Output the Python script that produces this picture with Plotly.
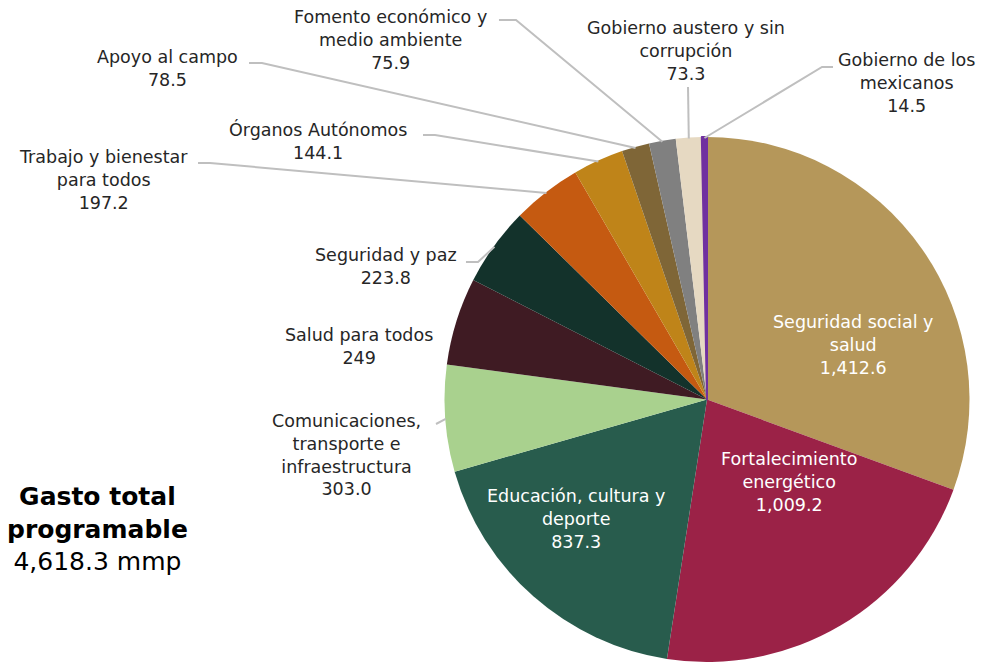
import math

import plotly.graph_objects as go

labels = [
    "Seguridad social y salud",
    "Fortalecimiento energético",
    "Educación, cultura y deporte",
    "Comunicaciones, transporte e infraestructura",
    "Salud para todos",
    "Seguridad y paz",
    "Trabajo y bienestar para todos",
    "Órganos Autónomos",
    "Apoyo al campo",
    "Fomento económico y medio ambiente",
    "Gobierno austero y sin corrupción",
    "Gobierno de los mexicanos",
]
values = [1412.6, 1009.2, 837.3, 303.0, 249.0, 223.8, 197.2, 144.1, 78.5, 75.9, 73.3, 14.5]
value_text = ["1,412.6", "1,009.2", "837.3", "303.0", "249", "223.8",
              "197.2", "144.1", "78.5", "75.9", "73.3", "14.5"]
label_lines = [
    "Seguridad social y<br>salud",
    "Fortalecimiento<br>energético",
    "Educación, cultura y<br>deporte",
    "Comunicaciones,<br>transporte e<br>infraestructura",
    "Salud para todos",
    "Seguridad y paz",
    "Trabajo y bienestar<br>para todos",
    "Órganos Autónomos",
    "Apoyo al campo",
    "Fomento económico y<br>medio ambiente",
    "Gobierno austero y sin<br>corrupción",
    "Gobierno de los<br>mexicanos",
]
colors = ["#B5975A", "#9B2247", "#285C4D", "#A9D18E", "#3F1B23", "#13322B",
          "#C55A11", "#BF8419", "#7F6637", "#808080", "#E6D9C2", "#7030A0"]
total_text = "4,618.3 mmp"

# page body has an 8px margin, so the figure sits at (8, 8) on screen
OFF = 8
W, H = 987 - OFF, 662 - OFF
CX, CY, R = 707, 400, 263   # screen pixels
FONT = "DejaVu Sans"

# label block centres in screen pixels
label_xy = [
    (853, 345), (789, 482), (576, 519), (346, 455), (359, 346), (386, 266),
    (103, 180), (318, 141), (167, 68), (390, 40), (686, 51), (906, 83),
]
inside = [True, True, True] + [False] * 9
# leader lines: start point and elbow (screen pixels), end is on the slice edge
leaders = {
    3: [(436, 424)],
    5: [(466, 262), (478, 262)],
    6: [(198, 163), (210, 163)],
    7: [(423, 135), (435, 135)],
    8: [(249, 63), (262, 63)],
    9: [(499, 20), (516, 20)],
    10: [(688, 87)],
    11: [(833, 67), (822, 67)],
}


def px(x, y):
    return (x - OFF) / W, 1 - (y - OFF) / H


total = sum(values)
x0, y1 = px(CX - R, CY - R)
x1, y0 = px(CX + R, CY + R)
# thin outline only on the tiny purple slice so it reads like the original
line_w = [0] * (len(values) - 1) + [2]
fig = go.Figure(
    go.Pie(
        labels=labels,
        values=values,
        sort=False,
        direction="clockwise",
        rotation=0,
        marker=dict(colors=colors, line=dict(width=line_w, color=colors)),
        textinfo="none",
        hoverinfo="label+value",
        showlegend=False,
        domain=dict(x=[x0, x1], y=[max(y0, 0), y1]),
    )
)

cum = 0
shapes = []
annotations = []
for i, v in enumerate(values):
    theta = math.radians(360 * (cum + v / 2) / total)
    cum += v
    end = (CX + (R - 1) * math.sin(theta), CY - (R - 1) * math.cos(theta))
    if i in leaders:
        pts = leaders[i] + [end]
        path = "M " + " L ".join("%.4f,%.4f" % px(*p) for p in pts)
        shapes.append(dict(type="path", path=path, xref="paper", yref="paper",
                           line=dict(color="#BFBFBF", width=2)))
    x, y = px(*label_xy[i])
    annotations.append(dict(
        x=x, y=y, xref="paper", yref="paper", showarrow=False,
        text=label_lines[i] + "<br>" + value_text[i],
        font=dict(family=FONT, size=17.5, color="white" if inside[i] else "#262626"),
        xanchor="center", yanchor="middle", align="center",
    ))

x, y = px(97, 529)
annotations.append(dict(
    x=x, y=y, xref="paper", yref="paper", showarrow=False,
    text="<b>Gasto total<br>programable</b><br>" + total_text,
    font=dict(family=FONT, size=25, color="black"),
    xanchor="center", yanchor="middle", align="center",
))

fig.update_layout(
    width=W,
    height=H,
    margin=dict(l=0, r=0, t=0, b=0),
    paper_bgcolor="white",
    shapes=shapes,
    annotations=annotations,
)
fig.write_html("out.html")
